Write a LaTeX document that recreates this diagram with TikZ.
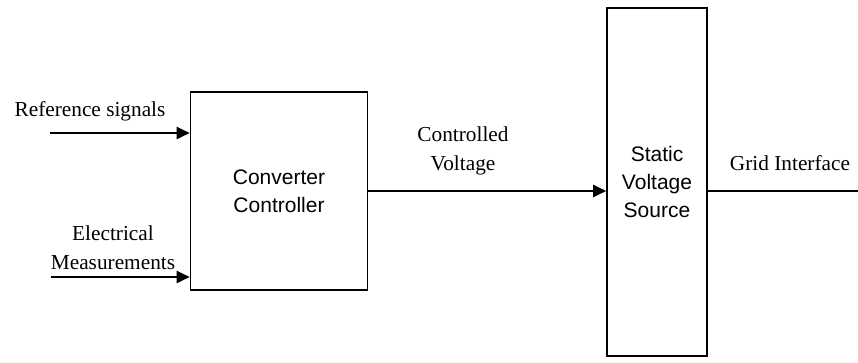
\documentclass[tikz,border=0pt]{standalone}
\usepackage{fontspec}
\setmainfont{Liberation Serif}
\newfontfamily\boxfont{Liberation Sans}
\usetikzlibrary{arrows.meta}
\begin{document}
\begin{tikzpicture}[x=1pt,y=-1pt,
  block/.style={draw=black,line width=1.6pt,rectangle,inner sep=0pt,
    align=center,font=\boxfont\fontsize{21}{28}\selectfont},
  lbl/.style={align=center,inner sep=0pt,font=\fontsize{21.3}{29}\selectfont},
  sig/.style={line width=2pt,-{Triangle[length=13pt,width=12pt]}},
  wire/.style={line width=2pt}]
\useasboundingbox (0,0) rectangle (858,362);

% blocks
\node[block,minimum width=177pt,minimum height=198pt] (conv) at (279,191)
  {Converter\\Controller};
\node[block,minimum width=100pt,minimum height=348pt] (svs) at (657,182)
  {Static\\Voltage\\Source};

% inputs to the controller
\coordinate (refin) at (50,133);
\coordinate (measin) at (51,277);
\draw[sig] (refin) -- (refin -| conv.west);
\draw[sig] (measin) -- (measin -| conv.west);
\node[lbl] (reflbl) at (90,111) {Reference signals};
\node[lbl] (measlbl) at (113,248) {Electrical\\Measurements};

% controller to source
\coordinate (cvout) at (conv.east |- 0,191);
\draw[sig] (cvout) -- (cvout -| svs.west);
\node[lbl] (cvlbl) at (463,151) {Controlled\\Voltage};

% grid side
\coordinate (gridend) at (858,191);
\draw[wire] (gridend -| svs.east) -- (gridend);
\node[lbl] (gridlbl) at (790,163) {Grid Interface};
\end{tikzpicture}
\end{document}
